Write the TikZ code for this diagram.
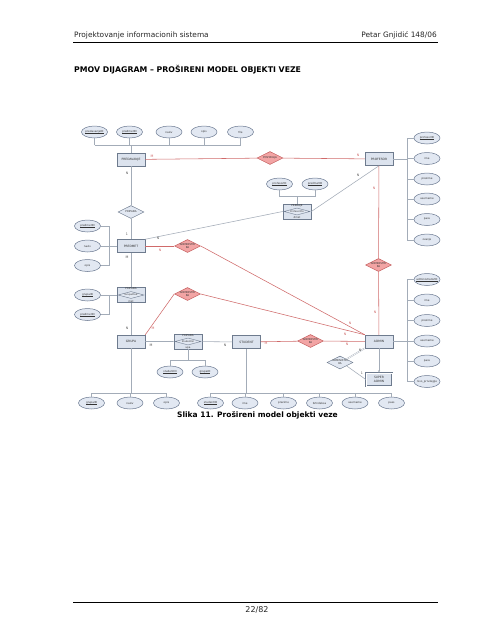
\documentclass[tikz,border=0pt]{standalone}
\usepackage{fontspec}
\setmainfont{DejaVu Sans}
\usetikzlibrary{shapes.geometric,arrows.meta}
\definecolor{entf}{HTML}{DCE3EE}
\definecolor{entb}{HTML}{6E7B8E}
\definecolor{attf}{HTML}{E2E8F2}
\definecolor{attb}{HTML}{6A7890}
\definecolor{relf}{HTML}{F2A4A4}
\definecolor{relb}{HTML}{C45C5C}
\definecolor{redl}{HTML}{D06A6A}
\definecolor{grayl}{HTML}{A3ACB8}
\newcommand{\zw}[1]{\makebox[0pt]{#1}}
\newcommand{\uln}[1]{\vtop{\hbox{#1}\kern0.3pt\hrule height 0.18pt}}
\tikzset{
 ent/.style={draw=entb, fill=entf, line width=0.5pt, minimum width=28pt, minimum height=13pt, inner sep=0pt, font=\fontsize{3}{3.4}\selectfont, text=black!80, align=center},
 attr/.style={ellipse, draw=attb, fill=attf, line width=0.5pt, minimum width=26pt, minimum height=12pt, inner sep=0pt, font=\fontsize{2.7}{3}\selectfont, text=black!80},
 rel/.style={diamond, draw=relb, fill=relf, line width=0.5pt, minimum width=26pt, minimum height=13pt, inner sep=0pt, font=\fontsize{2.6}{3}\selectfont, align=center, text=black!80},
 relw/.style={rel, draw=entb, fill=attf},
 agg/.style={draw=entb, fill=entf, line width=0.6pt, minimum width=28pt, minimum height=15pt, inner sep=0pt},
 aggd/.style={diamond, draw=entb, fill=attf, line width=0.4pt, minimum width=26pt, minimum height=7pt, inner sep=0pt, font=\fontsize{2.4}{2.6}\selectfont, text=black!80},
 aggt/.style={inner sep=0.3pt, font=\fontsize{2.6}{2.8}\selectfont, text=black!80},
 rl/.style={draw=redl, line width=0.55pt},
 gl/.style={draw=grayl, line width=0.55pt},
 lab/.style={inner sep=0pt, font=\fontsize{3.3}{3.5}\selectfont, text=black!65},
 rlab/.style={lab, text=redl},
 hdr/.style={inner sep=0pt, font=\fontsize{7.4}{8}\selectfont, text=black!85},
}
\begin{document}
\begin{tikzpicture}[x=1pt,y=-1pt]
\useasboundingbox (0,0) rectangle (495,640);
\fill[white] (0,0) rectangle (495,640);
% header
\node[hdr, anchor=west] (h1) at (74,35) {Projektovanje informacionih sistema};
\node[hdr, anchor=east] (h2) at (437,35) {Petar Gnjidić 148/06};
\coordinate (r1) at (73,42); \coordinate (r2) at (438,42);
\draw[line width=0.8pt] (r1) -- (r2);
\node[inner sep=0pt, anchor=west, font=\bfseries\fontsize{7.8}{9}\selectfont] (title) at (74,70) {PMOV DIJAGRAM – PROŠIRENI MODEL OBJEKTI VEZE};
% PREDAVANJE
\node[attr] (pa1) at (94.5,132) {\zw{\uln{predavanjeID}}};
\node[attr] (pa2) at (129.5,132) {\zw{\uln{predmetID}}};
\node[attr] (pa3) at (169,132) {\zw{naziv}};
\node[attr] (pa4) at (204,132) {\zw{opis}};
\node[attr] (pa5) at (240.5,132) {\zw{file}};
\node[ent] (predavanje) at (131,159.5) {PREDAVANJE};
\node[rel] (postavlja) at (270,158) {\zw{POSTAVLJA}};
% PROFESOR
\node[ent] (profesor) at (379,159) {PROFESOR};
\node[attr] (pr1) at (427,138) {\zw{\uln{profesorID}}};
\node[attr] (pr2) at (427,158.5) {\zw{ime}};
\node[attr] (pr3) at (427,179) {\zw{prezime}};
\node[attr] (pr4) at (427,199) {\zw{username}};
\node[attr] (pr5) at (427,219.5) {\zw{pass}};
\node[attr] (pr6) at (427,240) {\zw{zvanje}};
% PRIPADA diamond
\node[relw] (pripada) at (131,212) {\zw{PRIPADA}};
% PREDAJE aggregate
\node[attr] (pj1) at (279.5,184) {\zw{\uln{profesorID}}};
\node[attr] (pj2) at (315,184) {\zw{\uln{predmetID}}};
\node[agg] (predaje) at (297,211.5) {};
\node[aggt, anchor=north] (predajeT) at (predaje.north) {PREDAJE};
\node[aggd] (predajeD) at (predaje.center) {\zw{ProfesorPre}};
\node[aggt, anchor=south] (predajeB) at (predaje.south) {dmet};
% PREDMET
\node[ent] (predmet) at (131,246) {PREDMET};
\node[attr] (pm1) at (87.5,226) {\zw{\uln{predmetID}}};
\node[attr] (pm2) at (87.5,246) {\zw{naziv}};
\node[attr] (pm3) at (87.5,265.5) {\zw{opis}};
\node[rel] (adm1) at (187.5,246) {\zw{ADMINISTRI}\\\zw{RA}};
\node[rel] (adm4) at (378.5,265) {\zw{ADMINISTRI}\\\zw{RA}};
% PRIPADA GrupaPredmet aggregate
\node[attr] (gp1) at (87.5,295) {\zw{\uln{grupaID}}};
\node[attr] (gp2) at (87.5,314.5) {\zw{\uln{predmetID}}};
\node[agg] (gp) at (131,295) {};
\node[aggt, anchor=north] (gpT) at (gp.north) {PRIPADA};
\node[aggd] (gpD) at (gp.center) {\zw{GrupaPred}};
\node[aggt, anchor=south] (gpB) at (gp.south) {met};
\node[rel] (adm2) at (187.5,294) {\zw{ADMINISTRI}\\\zw{RA}};
% GRUPA, STUDENT
\node[ent] (grupa) at (131,341.5) {GRUPA};
\node[agg] (sg) at (188,341.5) {};
\node[aggt, anchor=north] (sgT) at (sg.north) {PRIPADA};
\node[aggd] (sgD) at (sg.center) {\zw{StudentGr}};
\node[aggt, anchor=south] (sgB) at (sg.south) {upa};
\node[attr] (sg1) at (170,372) {\zw{\uln{studentID}}};
\node[attr] (sg2) at (205,372) {\zw{\uln{grupaID}}};
\node[ent] (student) at (246.5,342) {STUDENT};
\node[rel] (adm3) at (310.5,341) {\zw{ADMINISTRI}\\\zw{RA}};
% ADMIN
\node[ent] (admin) at (379,341.5) {ADMIN};
\node[attr] (ad1) at (427,279.5) {\zw{\uln{administratorID}}};
\node[attr] (ad2) at (427,300) {\zw{ime}};
\node[attr] (ad3) at (427,320.5) {\zw{prezime}};
\node[attr] (ad4) at (427,341) {\zw{username}};
\node[attr] (ad5) at (427,361) {\zw{pass}};
\node[attr] (ad6) at (427,381.5) {\zw{nivo\_privilegije}};
\node[relw] (adm5) at (340,362.5) {\zw{ADMINISTRI}\\\zw{RA}};
\node[ent, double, double distance=0.9pt, minimum width=26pt, minimum height=13pt] (super) at (379,379.5) {SUPER\\ADMIN};
% bottom attributes
\node[attr] (g1) at (91.5,403) {\zw{\uln{grupaID}}};
\node[attr] (g2) at (130,403) {\zw{naziv}};
\node[attr] (g3) at (166.5,403) {\zw{opis}};
\node[attr] (s1) at (210.5,403) {\zw{\uln{studentID}}};
\node[attr] (s2) at (245,403) {\zw{ime}};
\node[attr] (s3) at (283.5,403) {\zw{prezime}};
\node[attr] (s4) at (319.5,403) {\zw{brIndeksa}};
\node[attr] (s5) at (355,403) {\zw{username}};
\node[attr] (s6) at (391.5,403) {\zw{pass}};
% caption and footer
\node[inner sep=0pt, font=\bfseries\fontsize{7.5}{9}\selectfont] (cap) at (257.5,415.5) {Slika 11. Prošireni model objekti veze};
\coordinate (f1) at (73,602); \coordinate (f2) at (438,602);
\draw[line width=0.8pt] (f1) -- (f2);
\node[hdr, font=\fontsize{8}{9}\selectfont] (pg) at (257,609.5) {22/82};

% ---- connectors ----
\coordinate (busPA) at (131,145);
\foreach \n in {pa1,pa2,pa3,pa4,pa5} {\draw[gl] (\n) -- (\n |- busPA);}
\draw[gl] (pa1 |- busPA) -- (pa5 |- busPA);
\draw[gl] (busPA) -- (predavanje);
\draw[rl] (predavanje) -- (postavlja) -- (profesor);
\coordinate (busPR) at (407,159);
\draw[gl] (profesor) -- (busPR);
\draw[gl] (busPR |- pr1) -- (busPR |- pr6);
\foreach \n in {pr1,pr2,pr3,pr4,pr5,pr6} {\draw[gl] (busPR |- \n) -- (\n);}
\draw[gl] (predavanje) -- (pripada) -- (predmet);
\coordinate (busPJ) at (297,196);
\draw[gl] (pj1) -- (pj1 |- busPJ) -- (pj2 |- busPJ) -- (pj2);
\draw[gl] (busPJ) -- (predaje);
\draw[gl] (predmet.north east) -- (predaje.west);
\draw[gl] (predaje.east) -- (profesor.south);
\coordinate (busPM) at (109,246);
\draw[gl] (busPM |- pm1) -- (busPM |- pm3);
\foreach \n in {pm1,pm3} {\draw[gl] (busPM |- \n) -- (\n);}
\draw[gl] (pm2) -- (predmet);
\draw[rl] (predmet) -- (adm1);
\draw[rl] (adm1.east) -- (admin.north west);
\draw[rl] (profesor) -- (adm4) -- (admin);
\draw[gl] (predmet) -- (gp) -- (grupa);
\coordinate (busGP) at (109,295);
\draw[gl] (gp1) -- (gp);
\draw[gl] (busGP) -- (busGP |- gp2) -- (gp2);
\draw[rl] (grupa.north east) -- (adm2.west);
\draw[rl] (adm2.east) -- (admin.north west);
\draw[gl] (grupa) -- (sg) -- (student);
\coordinate (busSG) at (188,360);
\draw[gl] (sg1) -- (sg1 |- busSG) -- (sg2 |- busSG) -- (sg2);
\draw[gl] (busSG) -- (sg);
\draw[rl] (student) -- (adm3) -- (admin);
\coordinate (busAD) at (407,341.5);
\draw[gl] (admin) -- (busAD);
\draw[gl] (busAD |- ad1) -- (busAD |- ad6);
\foreach \n in {ad1,ad2,ad3,ad4,ad5,ad6} {\draw[gl] (busAD |- \n) -- (\n);}
\draw[gl, double, double distance=0.6pt, line width=0.35pt] (adm5.north east) -- (admin.south west);
\draw[gl] (adm5.south east) -- (super.west);
\draw[gl, -{Stealth[length=2.5pt,width=2pt]}] (admin) -- (super);
\coordinate (busG) at (131,393);
\draw[gl] (grupa) -- (busG);
\draw[gl] (g1 |- busG) -- (g3 |- busG);
\foreach \n in {g1,g2,g3} {\draw[gl] (\n |- busG) -- (\n);}
\coordinate (busS) at (246.5,393);
\draw[gl] (student) -- (busS);
\draw[gl] (s1 |- busS) -- (s6 |- busS);
\foreach \n in {s1,s2,s3,s4,s5,s6} {\draw[gl] (\n |- busS) -- (\n);}

% ---- cardinality labels ----
\node[rlab] (l1) at (152,156) {M};
\node[rlab] (l2) at (358,155) {N};
\node[lab] (l3) at (127,173) {N};
\node[lab] (l4) at (127,234) {1};
\node[lab] (l5) at (127,257.5) {M};
\node[lab] (l6) at (158,238.5) {N};
\node[rlab] (l7) at (160,250.5) {N};
\node[lab] (l8) at (358,175) {N};
\node[rlab] (l9) at (374,188) {N};
\node[lab] (l10) at (127,328) {N};
\node[rlab] (l11) at (153,328) {M};
\node[lab] (l12) at (151,345.5) {M};
\node[lab] (l13) at (225,345.5) {N};
\node[rlab] (l14) at (266,343.5) {M};
\node[rlab] (l15) at (375,312) {N};
\node[rlab] (l16) at (350,323) {N};
\node[rlab] (l17) at (345,334) {N};
\node[rlab] (l18) at (347,344.5) {N};
\node[lab] (l19) at (360,350.5) {N};
\node[lab] (l20) at (362,373) {1};
\end{tikzpicture}
\end{document}
